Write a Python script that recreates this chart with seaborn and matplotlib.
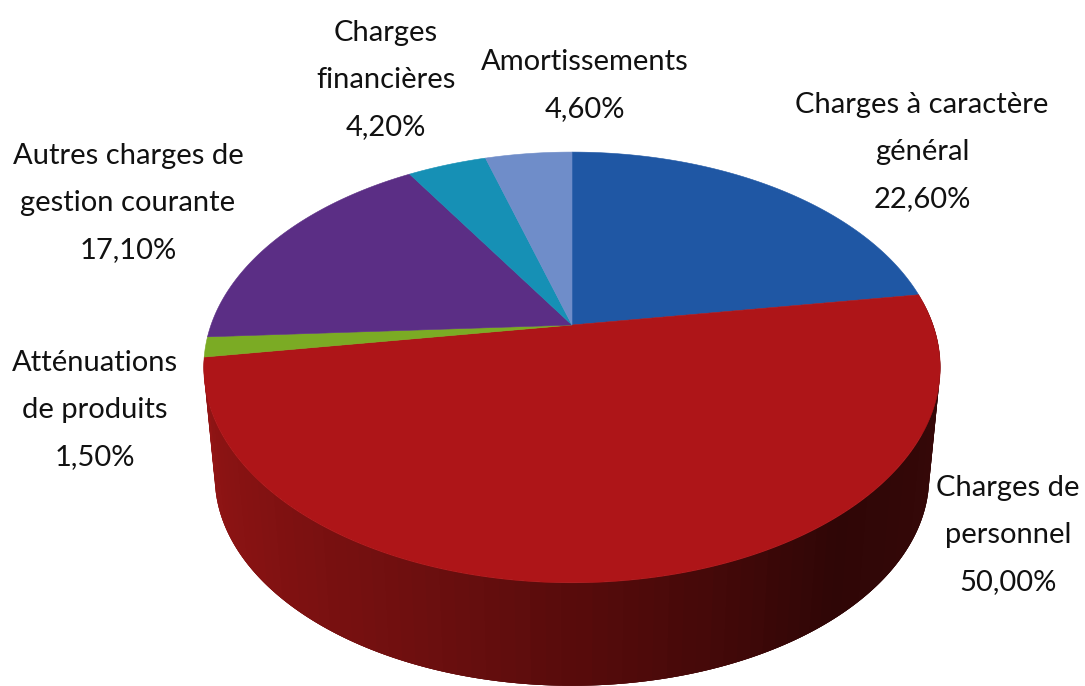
import numpy as np
import matplotlib
matplotlib.use("Agg")
import matplotlib.pyplot as plt
import seaborn as sns

sns.set_theme(style="white")
plt.rcParams["font.family"] = ["Lato", "DejaVu Sans"]

# clockwise from 12 o'clock
categories = ["Charges à caractère\ngénéral", "Charges de\npersonnel", "Atténuations\nde produits",
              "Autres charges de\ngestion courante", "Charges\nfinancières", "Amortissements"]
values = [22.6, 50.0, 1.5, 17.1, 4.2, 4.6]
value_labels = ["22,60%", "50,00%", "1,50%", "17,10%", "4,20%", "4,60%"]

colors = ["#1f57a4", "#ae1518", "#7bab24", "#5b2e85", "#1690b5", "#6f8dc9"]
side_stops = ["#3a0a0a", "#350808", "#2f0606", "#4f0a0a", "#6e0f0f", "#851212", "#941515"]

# text centres in pixels
label_xy = [(922, 152), (1008, 535), (95, 410), (128, 203), (386, 80), (585, 86)]

# perspective of the disc
CX, CY = 572, 325
K, A, C = 0.197, 207, 361
DEPTH, SHRINK = 110.7, 0.97


def project(theta, r=1.0, lower=False):
    u = r * np.sin(theta)
    v = r * np.cos(theta)
    w = 1 + K * v
    x = C * u / w
    y = -A * v / w
    if lower:
        return CX + x * SHRINK, CY + y * SHRINK + DEPTH
    return CX + x, CY + y


fig = plt.figure(figsize=(10.85, 6.86), dpi=100)
ax = fig.add_axes([0, 0, 1, 1])
ax.set_xlim(0, 1085)
ax.set_ylim(686, 0)
ax.axis("off")

edges = np.deg2rad(np.cumsum([0] + values) * 3.6)

# side of the big slice, the others are hidden behind the top
# bands overlap the next one so no seams show
n_side = 90
side_colors = sns.blend_palette(side_stops, n_colors=n_side)
side_edges = np.linspace(edges[1], edges[2], n_side + 1)
for i in range(n_side):
    t = np.linspace(side_edges[i], side_edges[min(i + 3, n_side)], 8)
    x0, y0 = project(t)
    x1, y1 = project(t[::-1], lower=True)
    ax.fill(np.r_[x0, x1], np.r_[y0, y1], color=side_colors[i], lw=0, zorder=1)

# top
for i in range(len(values)):
    t = np.linspace(edges[i], edges[i + 1], 200)
    x, y = project(t)
    ax.fill(np.r_[CX, x], np.r_[CY, y], color=colors[i], lw=0.4, zorder=2)

for name, val, (tx, ty) in zip(categories, value_labels, label_xy):
    ax.text(tx, ty, name + "\n" + val, ha="center", va="center", fontsize=21,
            color="#111111", linespacing=2.0, zorder=3)

fig.savefig("out.png", dpi=100)
